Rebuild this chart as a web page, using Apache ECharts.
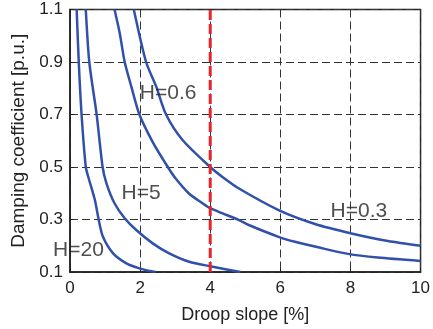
<!DOCTYPE html>
<html>
<head>
<meta charset="utf-8">
<script src="https://cdn.jsdelivr.net/npm/echarts@6/dist/echarts.min.js"></script>
<style>
html,body{margin:0;padding:0;background:#fff;}
#chart{width:433px;height:329px;}
</style>
</head>
<body>
<div id="chart"></div>
<script>
// X ticks and Y ticks
const xTicks = [0, 2, 4, 6, 8, 10];
const yTicks = [0.1, 0.3, 0.5, 0.7, 0.9, 1.1];

// Curves: [droop slope %, damping coefficient p.u.]
const curveH20 = [[0.19,1.1],[0.25,0.9],[0.33,0.7],[0.45,0.5],[0.52,0.463],[0.71,0.374],[0.82,0.298],[0.94,0.234],[1.23,0.171],[1.61,0.133],[1.98,0.114],[2.44,0.1]];
const curveH5 = [[0.45,1.1],[0.55,0.9],[0.76,0.7],[0.93,0.5],[1.04,0.438],[1.27,0.362],[1.56,0.305],[1.89,0.26],[2.36,0.209],[2.83,0.171],[3.40,0.139],[4.0,0.122],[4.86,0.1]];
const curveH06 = [[1.27,1.1],[1.42,1.009],[1.56,0.9],[1.75,0.806],[1.98,0.7],[2.36,0.595],[2.79,0.5],[3.02,0.455],[3.40,0.398],[3.78,0.362],[4.0,0.343],[4.34,0.324],[4.82,0.298],[5.10,0.279],[5.95,0.234],[6.42,0.215],[7.08,0.194],[7.93,0.169],[8.78,0.155],[10,0.142]];
const curveH03 = [[1.82,1.1],[2.17,0.9],[2.46,0.806],[2.74,0.7],[3.21,0.603],[4.0,0.5],[4.34,0.463],[4.82,0.418],[5.95,0.336],[6.99,0.283],[8.03,0.247],[9.07,0.218],[10,0.2]];

// Vertical marker at droop 4%
const markerX = 4;
const markerLine = [[markerX, 0.1],[markerX, 1.1]];

// Curve labels
const labelText = ['H=0.6', 'H=5', 'H=20', 'H=0.3'];
const labelX = [2.80, 2.03, 0.24, 8.24];
const labelY = [0.782, 0.40, 0.184, 0.33];

const blue = '#3150aa';
const font = 'Liberation Sans, Arial, Helvetica, sans-serif';

function curve(name, data) {
  return {
    name: name, type: 'line', data: data, smooth: 0.25, symbol: 'none',
    lineStyle: {color: blue, width: 2.5}, clip: true, z: 3
  };
}

const chart = echarts.init(document.getElementById('chart'), null, {renderer: 'canvas'});
chart.setOption({
  animation: false,
  backgroundColor: '#fff',
  grid: {left: 70, right: 10, top: 9.5, bottom: 57, show: true, borderColor: '#222', borderWidth: 1.5, backgroundColor: 'transparent'},
  xAxis: {
    type: 'value', min: xTicks[0], max: xTicks[xTicks.length-1], interval: 2,
    name: 'Droop slope [%]', nameLocation: 'middle', nameGap: 34,
    nameTextStyle: {fontFamily: font, fontSize: 18, color: '#222'},
    axisLine: {show: true, lineStyle: {color: '#222', width: 1.5}},
    axisTick: {show: true, inside: true, length: 4, lineStyle: {color: '#222'}},
    axisLabel: {fontFamily: font, fontSize: 17, color: '#222', margin: 8},
    splitLine: {show: true, lineStyle: {color: '#333', width: 1, type: [8, 4]}}
  },
  yAxis: {
    type: 'value', min: yTicks[0], max: yTicks[yTicks.length-1], interval: 0.2,
    name: 'Damping coefficient [p.u.]', nameLocation: 'middle', nameGap: 38, nameRotate: 90,
    nameTextStyle: {fontFamily: font, fontSize: 19, color: '#222'},
    axisLine: {show: true, lineStyle: {color: '#222', width: 1.5}},
    axisTick: {show: true, inside: true, length: 4, lineStyle: {color: '#222'}},
    axisLabel: {fontFamily: font, fontSize: 17, color: '#222', margin: 7, formatter: v => v.toFixed(1)},
    splitLine: {show: true, lineStyle: {color: '#333', width: 1, type: [8, 4]}}
  },
  series: [
    curve('H=20', curveH20),
    curve('H=5', curveH5),
    curve('H=0.6', curveH06),
    curve('H=0.3', curveH03),
    {
      type: 'line', data: markerLine, symbol: 'none',
      lineStyle: {color: '#e8242a', width: 3, type: [10, 4]}, z: 4
    },
    {
      type: 'scatter', symbolSize: 0, z: 5,
      data: labelText.map((t, i) => ({value: [labelX[i], labelY[i]], name: t})),
      label: {show: true, position: 'inside', formatter: p => p.name, fontFamily: font, fontSize: 21, color: '#222'}
    }
  ]
});
</script>
</body>
</html>
